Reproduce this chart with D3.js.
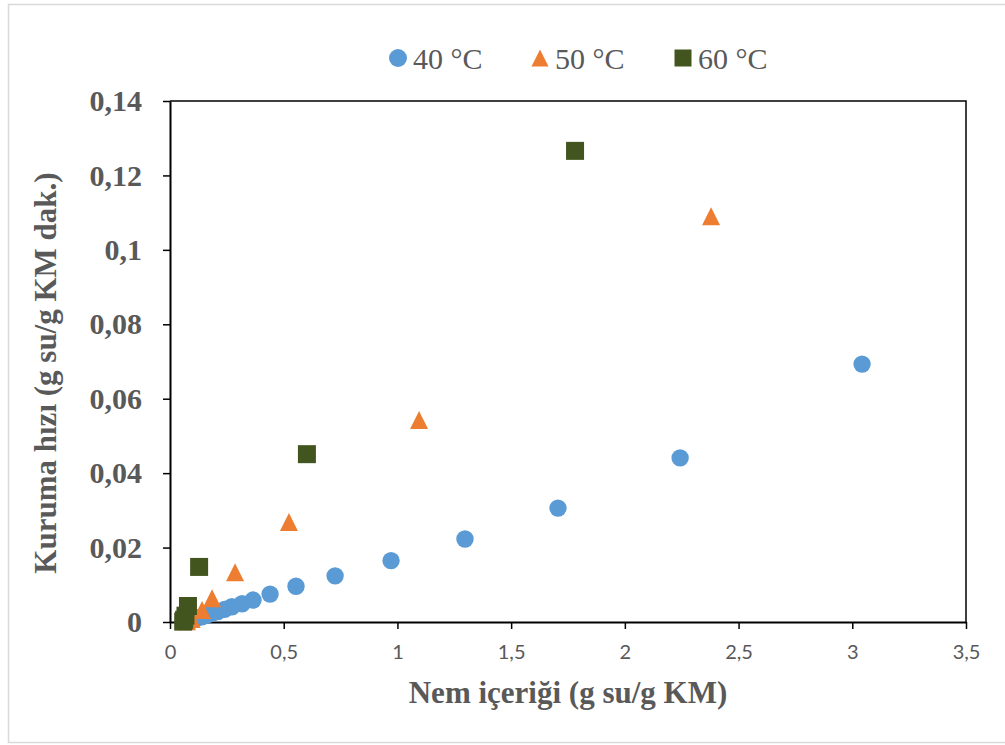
<!DOCTYPE html>
<html>
<head>
<meta charset="utf-8">
<script src="https://cdn.jsdelivr.net/npm/d3@7"></script>
<style>
    body { margin: 0; background: #ffffff; }
    svg { display: block; }
</style>
</head>
<body>
<svg id="drawing_region"></svg>
<script>
// series: moisture content (x) and drying rate (y)
const series_names = ['40 °C', '50 °C', '60 °C'];
const series_colors = ['#5b9bd5', '#ed7d31', '#43551f'];

const x40 = [3.043, 2.243, 1.706, 1.297, 0.972, 0.726, 0.554, 0.440, 0.365, 0.317, 0.272, 0.240, 0.210, 0.185, 0.160, 0.140, 0.120, 0.100, 0.085, 0.070];
const y40 = [0.0693, 0.0441, 0.0306, 0.0223, 0.0165, 0.0124, 0.0096, 0.0075, 0.0059, 0.0049, 0.0041, 0.0034, 0.0028, 0.0023, 0.0018, 0.0014, 0.0011, 0.0008, 0.0005, 0.0002];

const x50 = [2.379, 1.095, 0.523, 0.286, 0.185, 0.141, 0.095, 0.075];
const y50 = [0.1090, 0.0543, 0.0269, 0.0134, 0.0064, 0.0032, 0.0008, 0.0002];

const x60 = [1.781, 0.602, 0.128, 0.079, 0.068, 0.062, 0.058];
const y60 = [0.1266, 0.0451, 0.0148, 0.0043, 0.0017, 0.0006, 0.0001];

const x_ticks = [0, 0.5, 1, 1.5, 2, 2.5, 3, 3.5];
const y_ticks = [0, 0.02, 0.04, 0.06, 0.08, 0.1, 0.12, 0.14];

const x_title = 'Nem içeriği (g su/g KM)';
const y_title = 'Kuruma hızı (g su/g KM dak.)';

// triangle with height equal to width, like the spreadsheet marker
const symbolTri = {
    draw(context, size) {
        const s = Math.sqrt(size);
        context.moveTo(0, -s / 2);
        context.lineTo(s / 2, s / 2);
        context.lineTo(-s / 2, s / 2);
        context.closePath();
    }
};
const series_symbols = [d3.symbolCircle, symbolTri, d3.symbolSquare];
const series_sizes = [Math.PI * 8.7 * 8.7, 18 * 18, 18 * 18];

const fmt = d => String(+d.toFixed(2)).replace('.', ',');

var config = {
    parent: '#drawing_region',
    width: 1005,
    height: 745,
    margin: { top: 101, right: 39, bottom: 123, left: 170 },
};

const data = [
    x40.map((x, i) => ({ x: x, y: y40[i], s: 0 })),
    x50.map((x, i) => ({ x: x, y: y50[i], s: 1 })),
    x60.map((x, i) => ({ x: x, y: y60[i], s: 2 })),
];

const svg = d3.select(config.parent)
    .attr('width', config.width)
    .attr('height', config.height);

// outer chart border
svg.append('rect')
    .attr('x', 8.5).attr('y', 4.5)
    .attr('width', 1010).attr('height', 738)
    .attr('fill', 'none')
    .attr('stroke', '#d9d9d9')
    .attr('stroke-width', 1.5);

const inner_width = config.width - config.margin.left - config.margin.right;
const inner_height = config.height - config.margin.top - config.margin.bottom;

const chart = svg.append('g')
    .attr('transform', `translate(${config.margin.left}, ${config.margin.top})`);

const xscale = d3.scaleLinear().domain([0, 3.5]).range([0, inner_width]);
const yscale = d3.scaleLinear().domain([0, 0.14]).range([inner_height, 0]);

// plot box top/right
chart.append('path')
    .attr('d', `M0,0H${inner_width}V${inner_height}`)
    .attr('fill', 'none')
    .attr('stroke', '#000')
    .attr('stroke-width', 1.5);

const xaxis = d3.axisBottom(xscale)
    .tickValues(x_ticks)
    .tickFormat(fmt)
    .tickSize(7)
    .tickPadding(16)
    .tickSizeOuter(0);

const yaxis = d3.axisLeft(yscale)
    .tickValues(y_ticks)
    .tickFormat(fmt)
    .tickSize(7)
    .tickPadding(21)
    .tickSizeOuter(0);

const xg = chart.append('g')
    .attr('transform', `translate(0, ${inner_height})`)
    .call(xaxis);
xg.selectAll('text')
    .attr('fill', '#595959')
    .style('font-family', 'Lato, "Open Sans", sans-serif')
    .style('font-size', '20px');

const yg = chart.append('g').call(yaxis);
yg.selectAll('text')
    .attr('fill', '#595959')
    .style('font-family', '"Liberation Serif", "Times New Roman", serif')
    .style('font-weight', 'bold')
    .style('font-size', '30px');

[xg, yg].forEach(g => {
    g.select('.domain').attr('stroke', '#000').attr('stroke-width', 2);
    g.selectAll('.tick line').attr('stroke', '#000').attr('stroke-width', 1.5);
});

// markers, later series on top
data.forEach(points => {
    chart.append('g').selectAll('path')
        .data(points)
        .join('path')
        .attr('transform', d => `translate(${xscale(d.x)}, ${yscale(d.y)})`)
        .attr('d', d => d3.symbol(series_symbols[d.s], series_sizes[d.s])())
        .attr('fill', d => series_colors[d.s]);
});

// axis titles
svg.append('text')
    .attr('x', 568)
    .attr('y', 703)
    .attr('text-anchor', 'middle')
    .attr('fill', '#595959')
    .style('font-family', '"Liberation Serif", "Times New Roman", serif')
    .style('font-weight', 'bold')
    .style('font-size', '31px')
    .text(x_title);

svg.append('text')
    .attr('transform', 'translate(56, 373) rotate(-90)')
    .attr('text-anchor', 'middle')
    .attr('fill', '#595959')
    .style('font-family', '"Liberation Serif", "Times New Roman", serif')
    .style('font-weight', 'bold')
    .style('font-size', '31px')
    .text(y_title);

// legend
const legend_x = [398, 540, 683];
const legend = svg.append('g');
series_names.forEach((name, i) => {
    legend.append('path')
        .attr('transform', `translate(${legend_x[i]}, 58)`)
        .attr('d', d3.symbol(series_symbols[i], i === 0 ? Math.PI * 81 : 17 * 17)())
        .attr('fill', series_colors[i]);
    legend.append('text')
        .attr('x', legend_x[i] + 15)
        .attr('y', 69)
        .attr('fill', '#595959')
        .style('font-family', '"Liberation Serif", "Times New Roman", serif')
        .style('font-size', '30px')
        .text(name);
});
</script>
</body>
</html>
